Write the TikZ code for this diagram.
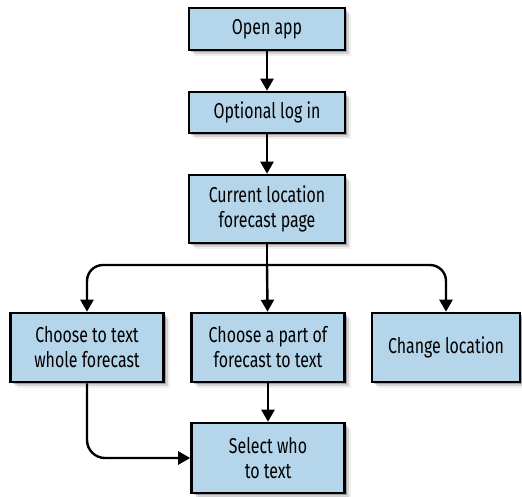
\documentclass[tikz,border=0pt]{standalone}
\usepackage{fontspec}
\setmainfont[FakeStretch=0.74]{Fira Sans}
\usetikzlibrary{arrows.meta,shadows}
\definecolor{boxblue}{HTML}{B5D5EA}
\tikzset{
  softshadow/.style={
    drop shadow={shadow xshift=2pt,shadow yshift=-2pt,fill=black,opacity=0.25},
    drop shadow={shadow xshift=4pt,shadow yshift=-4pt,fill=black,opacity=0.12},
    drop shadow={shadow xshift=6pt,shadow yshift=-6pt,fill=black,opacity=0.06}},
  flowbox/.style={draw=black,line width=2.6pt,fill=boxblue,softshadow,
    align=center,inner sep=0pt,font=\fontsize{21.5}{25}\selectfont},
  flowarrow/.style={line width=2.4pt,-{Triangle[length=12pt,width=13pt]}},
}
\begin{document}
\begin{tikzpicture}[x=1pt,y=-1pt]
\useasboundingbox (0,0) rectangle (522,496);
\node[flowbox,minimum width=156pt,minimum height=42pt] (open) at (267,29) {Open app};
\node[flowbox,minimum width=156pt,minimum height=41pt] (login) at (267,112.5) {Optional log in};
\node[flowbox,minimum width=156pt,minimum height=68pt] (current) at (267,209) {Current location\\forecast page};
\node[flowbox,minimum width=153pt,minimum height=69pt] (whole) at (87,347.5) {Choose to text\\whole forecast};
\node[flowbox,minimum width=153pt,minimum height=69pt] (part) at (268,347.5) {Choose a part of\\forecast to text};
\node[flowbox,minimum width=148pt,minimum height=69pt] (change) at (446,347.5) {Change location};
\node[flowbox,minimum width=153pt,minimum height=70pt] (select) at (268,458) {Select who\\to text};
\coordinate (hub) at (267,265);
\draw[flowarrow] (open) -- (login);
\draw[flowarrow] (login) -- (current);
\draw[line width=2.4pt] (current.south) -- (hub);
\draw[flowarrow] (hub) -- (part);
\draw[flowarrow,rounded corners=16pt] (hub) -| (whole.north);
\draw[flowarrow,rounded corners=16pt] (hub) -| (change.north);
\draw[flowarrow] (part) -- (select);
\draw[flowarrow,rounded corners=18pt] (whole.south) |- (select.west);
\end{tikzpicture}
\end{document}
